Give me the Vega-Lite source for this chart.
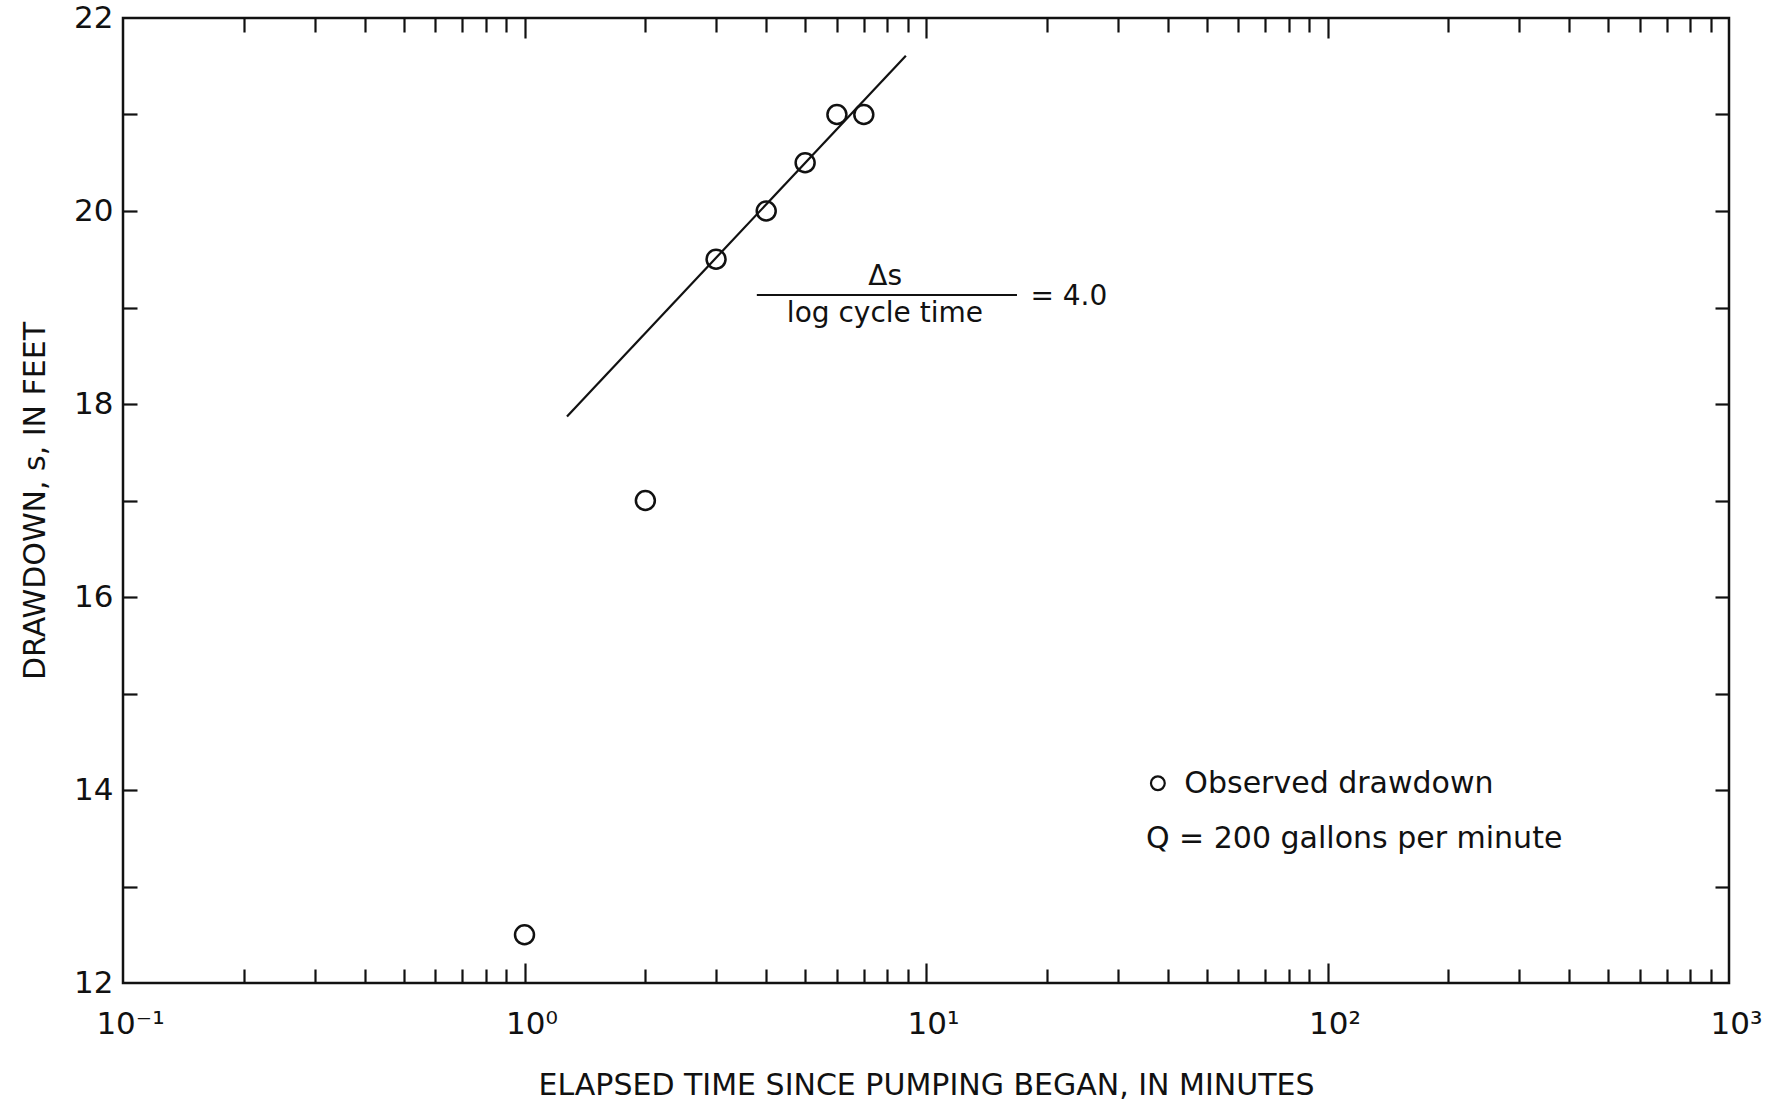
{
  "$schema": "https://vega.github.io/schema/vega-lite/v6.json",
  "autosize": "none",
  "width": 1606,
  "height": 965,
  "padding": {"left": 123, "top": 18, "right": 53, "bottom": 121},
  "background": "white",
  "config": {
    "view": {"stroke": "#111", "strokeWidth": 2.5},
    "font": "DejaVu Sans",
    "axis": {"grid": false, "domain": false, "labelFont": "DejaVu Sans", "titleFont": "DejaVu Sans", "labelColor": "#111", "titleColor": "#111", "tickColor": "#111", "tickWidth": 2.2, "titleFontWeight": "normal", "labelFlush": false, "labelOverlap": false}
  },
  "datasets": {
    "obs": [
      {"t": 1, "s": 12.5},
      {"t": 2, "s": 17},
      {"t": 3, "s": 19.5},
      {"t": 4, "s": 20},
      {"t": 5, "s": 20.5},
      {"t": 6, "s": 21},
      {"t": 7, "s": 21}
    ],
    "fit": [
      {"t": 1.276, "s": 17.87},
      {"t": 8.91, "s": 21.61}
    ],
    "frac": [
      {"t": 3.79, "t2": 16.85, "s": 19.13}
    ],
    "fracText": [
      {"t": 7.91, "s": 19.23, "label": "Δs"},
      {"t": 7.9, "s": 18.85, "label": "log cycle time"}
    ],
    "eqText": [
      {"t": 18.2, "s": 19.03, "label": "= 4.0"}
    ],
    "legendSym": [
      {"t": 37.8, "s": 14.07}
    ],
    "legendText": [
      {"t": 44.0, "s": 13.97, "label": "Observed drawdown"},
      {"t": 35.3, "s": 13.4, "label": "Q = 200 gallons per minute"}
    ]
  },
  "resolve": {"axis": {"x": "independent", "y": "independent"}},
  "layer": [
    {
      "data": {"name": "obs"},
      "mark": {"type": "point", "shape": "circle", "filled": false, "stroke": "#111", "strokeWidth": 2.5, "size": 360, "opacity": 1},
      "encoding": {
        "x": {
          "field": "t", "type": "quantitative",
          "scale": {"type": "log", "domain": [0.1, 1000], "nice": false},
          "axis": {
            "orient": "bottom",
            "values": [0.1, 1, 10, 100, 1000],
            "ticks": false,
            "labelFontSize": 31,
            "labelPadding": 26,
            "labelOffset": 7,
            "labelExpr": "'10' + ['⁻¹','⁰','¹','²','³'][round(log(datum.value)/LN10) + 1]",
            "title": "ELAPSED TIME SINCE PUMPING BEGAN, IN MINUTES",
            "titleFontSize": 30,
            "titleY": 111,
            "titleBaseline": "alphabetic"
          }
        },
        "y": {
          "field": "s", "type": "quantitative",
          "scale": {"domain": [12, 22], "nice": false, "zero": false},
          "axis": {
            "orient": "left",
            "values": [12, 14, 16, 18, 20, 22],
            "ticks": false,
            "labelFontSize": 31,
            "labelPadding": 10,
            "title": "DRAWDOWN, s, IN FEET",
            "titleFontSize": 30,
            "titleX": -79,
            "titleBaseline": "alphabetic"
          }
        }
      }
    },
    {
      "data": {"name": "fit"},
      "mark": {"type": "line", "stroke": "#111", "strokeWidth": 2.2},
      "encoding": {
        "x": {
          "field": "t", "type": "quantitative",
          "scale": {"type": "log", "domain": [0.1, 1000], "nice": false},
          "axis": {
            "orient": "bottom",
            "values": [0.2, 0.3, 0.4, 0.5, 0.6, 0.7, 0.8, 0.9, 1, 2, 3, 4, 5, 6, 7, 8, 9, 10, 20, 30, 40, 50, 60, 70, 80, 90, 100, 200, 300, 400, 500, 600, 700, 800, 900],
            "labels": false,
            "ticks": true,
            "tickSize": {"condition": {"test": "datum.value == 1 || datum.value == 10 || datum.value == 100", "value": -20}, "value": -14},
            "title": null
          }
        },
        "y": {
          "field": "s", "type": "quantitative",
          "scale": {"domain": [12, 22], "nice": false, "zero": false},
          "axis": {
            "orient": "left",
            "values": [13, 14, 15, 16, 17, 18, 19, 20, 21],
            "labels": false,
            "ticks": true,
            "tickSize": -14,
            "title": null
          }
        }
      }
    },
    {
      "data": {"name": "frac"},
      "mark": {"type": "rule", "stroke": "#111", "strokeWidth": 2},
      "encoding": {
        "x": {
          "field": "t", "type": "quantitative",
          "scale": {"type": "log", "domain": [0.1, 1000], "nice": false},
          "axis": {
            "orient": "top",
            "values": [0.2, 0.3, 0.4, 0.5, 0.6, 0.7, 0.8, 0.9, 1, 2, 3, 4, 5, 6, 7, 8, 9, 10, 20, 30, 40, 50, 60, 70, 80, 90, 100, 200, 300, 400, 500, 600, 700, 800, 900],
            "labels": false,
            "ticks": true,
            "tickSize": {"condition": {"test": "datum.value == 1 || datum.value == 10 || datum.value == 100", "value": -20}, "value": -14},
            "title": null
          }
        },
        "x2": {"field": "t2"},
        "y": {
          "field": "s", "type": "quantitative",
          "scale": {"domain": [12, 22], "nice": false, "zero": false},
          "axis": {
            "orient": "right",
            "values": [13, 14, 15, 16, 17, 18, 19, 20, 21],
            "labels": false,
            "ticks": true,
            "tickSize": -14,
            "title": null
          }
        }
      }
    },
    {
      "data": {"name": "fracText"},
      "mark": {"type": "text", "align": "center", "baseline": "alphabetic", "fontSize": 28, "color": "#111"},
      "encoding": {
        "x": {"field": "t", "type": "quantitative", "scale": {"type": "log", "domain": [0.1, 1000], "nice": false}, "axis": null},
        "y": {"field": "s", "type": "quantitative", "scale": {"domain": [12, 22], "nice": false, "zero": false}, "axis": null},
        "text": {"field": "label"}
      }
    },
    {
      "data": {"name": "eqText"},
      "mark": {"type": "text", "align": "left", "baseline": "alphabetic", "fontSize": 28, "color": "#111"},
      "encoding": {
        "x": {"field": "t", "type": "quantitative", "scale": {"type": "log", "domain": [0.1, 1000], "nice": false}, "axis": null},
        "y": {"field": "s", "type": "quantitative", "scale": {"domain": [12, 22], "nice": false, "zero": false}, "axis": null},
        "text": {"field": "label"}
      }
    },
    {
      "data": {"name": "legendSym"},
      "mark": {"type": "point", "shape": "circle", "filled": false, "stroke": "#111", "strokeWidth": 2.2, "size": 190, "opacity": 1},
      "encoding": {
        "x": {"field": "t", "type": "quantitative", "scale": {"type": "log", "domain": [0.1, 1000], "nice": false}, "axis": null},
        "y": {"field": "s", "type": "quantitative", "scale": {"domain": [12, 22], "nice": false, "zero": false}, "axis": null}
      }
    },
    {
      "data": {"name": "legendText"},
      "mark": {"type": "text", "align": "left", "baseline": "alphabetic", "fontSize": 30, "color": "#111"},
      "encoding": {
        "x": {"field": "t", "type": "quantitative", "scale": {"type": "log", "domain": [0.1, 1000], "nice": false}, "axis": null},
        "y": {"field": "s", "type": "quantitative", "scale": {"domain": [12, 22], "nice": false, "zero": false}, "axis": null},
        "text": {"field": "label"}
      }
    }
  ]
}
